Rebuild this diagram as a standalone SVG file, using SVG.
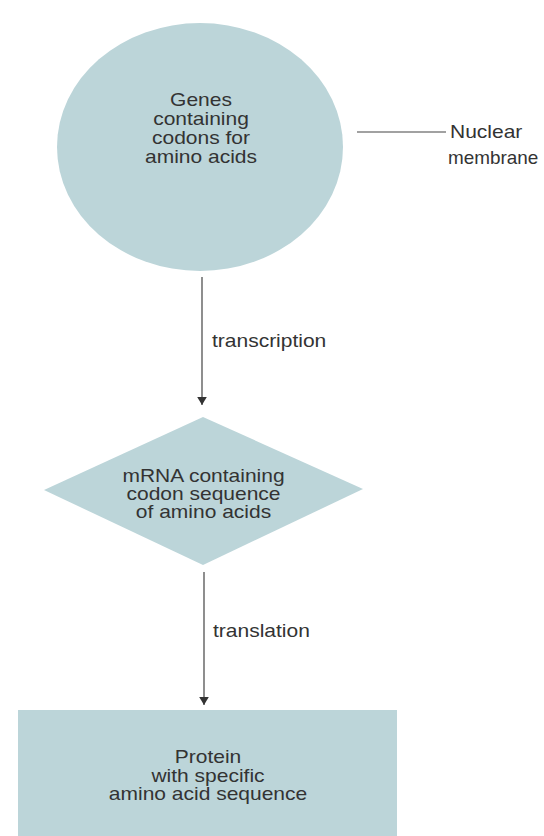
<svg xmlns="http://www.w3.org/2000/svg" width="544" height="836" viewBox="0 0 544 836">
<style>
.shape{fill:#bcd5d9;stroke:none}
.t{font-family:"Liberation Sans",Arial,sans-serif;font-size:17.5px;fill:#333333}
.c{text-anchor:middle}
.ln{stroke:#444;stroke-width:1.2;fill:none}
</style>
<defs>
<marker id="ah" viewBox="0 0 10 12" refX="10" refY="6" markerWidth="8" markerHeight="10" markerUnits="userSpaceOnUse" orient="auto">
<path d="M0,0 L10,6 L0,12 Z" fill="#333"/>
</marker>
</defs>
<rect width="544" height="836" fill="#ffffff"/>
<g id="connectors">
<line class="ln" x1="202" y1="277" x2="202" y2="405" marker-end="url(#ah)"/>
<line class="ln" x1="204" y1="572" x2="204" y2="705" marker-end="url(#ah)"/>
<line class="ln" x1="357" y1="132" x2="446" y2="132"/>
<text class="t" transform="translate(212,347) scale(1.2,1)">transcription</text>
<text class="t" transform="translate(213,637) scale(1.2,1)">translation</text>
</g>
<g id="genes">
<ellipse class="shape" cx="200" cy="147" rx="143" ry="124"/>
<text class="t c" transform="translate(201,106) scale(1.2,1)">Genes</text>
<text class="t c" transform="translate(201,125) scale(1.2,1)">containing</text>
<text class="t c" transform="translate(201,144) scale(1.2,1)">codons for</text>
<text class="t c" transform="translate(201,163) scale(1.2,1)">amino acids</text>
</g>
<g id="nuclear-membrane">
<text class="t" transform="translate(450,138) scale(1.2,1)">Nuclear</text>
<text class="t" transform="translate(448,164) scale(1.08,1)">membrane</text>
</g>
<g id="mrna">
<polygon class="shape" points="44,490 203,417 363,489 203,565"/>
<text class="t c" transform="translate(203.5,482) scale(1.2,1)">mRNA containing</text>
<text class="t c" transform="translate(203.5,500) scale(1.2,1)">codon sequence</text>
<text class="t c" transform="translate(203.5,518) scale(1.2,1)">of amino acids</text>
</g>
<g id="protein">
<rect class="shape" x="18" y="710" width="379" height="130"/>
<text class="t c" transform="translate(208,763) scale(1.2,1)">Protein</text>
<text class="t c" transform="translate(208,782) scale(1.2,1)">with specific</text>
<text class="t c" transform="translate(208,800) scale(1.2,1)">amino acid sequence</text>
</g>
</svg>
